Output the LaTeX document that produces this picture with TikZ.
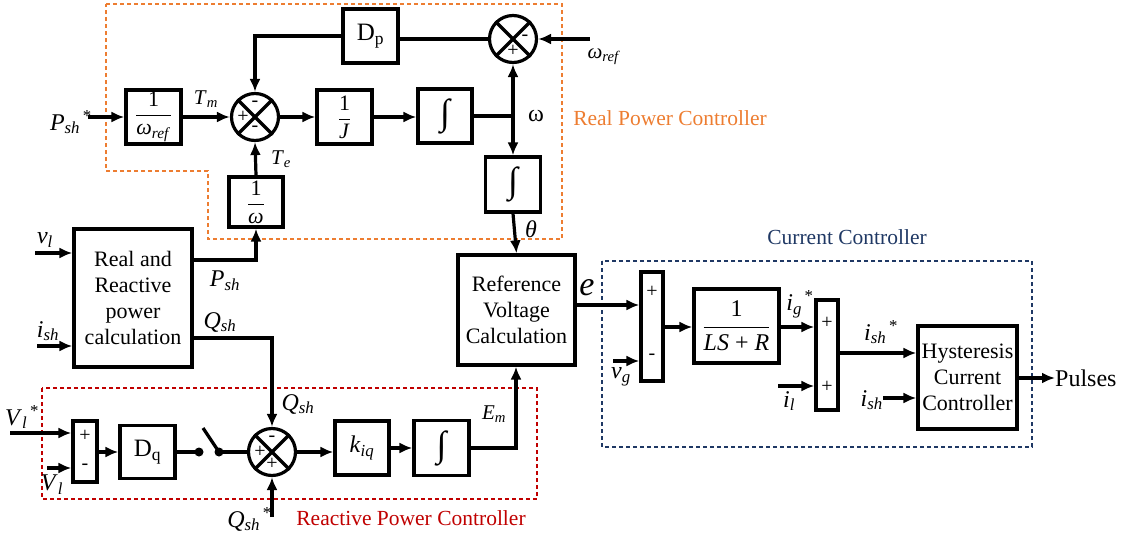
\documentclass[tikz,border=0pt]{standalone}
\usepackage{fontspec}
\setmainfont{Liberation Serif}
\usetikzlibrary{arrows.meta}
\definecolor{orng}{RGB}{237,125,49}
\definecolor{rd}{RGB}{192,0,0}
\definecolor{nv}{RGB}{31,56,100}
\newcommand\iv[1]{\textit{#1}}
\newcommand\sbi[1]{\textsubscript{\textit{#1}}}
\newcommand\sps{\textsuperscript{\,*}}
\newcommand\fr[2]{$\displaystyle\frac{\hbox{#1}}{\hbox{#2}}$}
\begin{document}
\begin{tikzpicture}[x=1pt,y=-1pt,
 blk/.style={draw,line width=3.2pt,inner sep=0pt,font=\fontsize{22}{26}\selectfont,align=center},
 sumc/.style={draw,circle,line width=3.2pt,minimum size=47pt,inner sep=0pt},
 bar/.style={draw,line width=3.2pt,inner sep=0pt},
 ln/.style={line width=3.2pt},
 arr/.style={line width=3.2pt,-{Latex[length=13pt,width=11pt]}},
 lbl/.style={font=\fontsize{24}{26}\selectfont,inner sep=0pt},
 lbs/.style={font=\fontsize{21}{24}\selectfont,inner sep=0pt},
 ttl/.style={font=\fontsize{21.5}{24}\selectfont,inner sep=0pt},
 sg/.style={font=\fontsize{20}{20}\selectfont,inner sep=0pt},
 grp/.style={line width=2.4pt,dash pattern=on 4pt off 3pt},
 intg/.style={blk,font=\fontsize{36}{36}\selectfont\itshape},
 dbl/.style={blk,font=\fontsize{25}{28}\selectfont},
]
\useasboundingbox (0,0) rectangle (1126,535);

% group frames
\draw[grp,orng] (106,4) -- (562,4) -- (562,239) -- (208,239) -- (208,171) -- (106,171) -- cycle;
\draw[grp,rd] (42,388) rectangle (537,499);
\draw[grp,nv] (602,261) rectangle (1032,447);
\node[ttl,orng] (rpc) at (670,118) {Real Power Controller};
\node[ttl,rd] (qpc) at (411,518) {Reactive Power Controller};
\node[ttl,nv] (cc) at (847,237) {Current Controller};

% blocks
\node[blk,minimum width=55pt,minimum height=54pt] (winv) at (153.5,117) {\fr{1}{\iv{ω}\sbi{ref}}};
\node[sumc] (s1) at (255,117) {};
\node[blk,minimum width=55pt,minimum height=54pt] (invJ) at (344.5,117) {\fr{1}{\iv{J}}};
\node[intg,minimum width=54pt,minimum height=54pt] (int1) at (445,116) {∫};
\node[dbl,minimum width=55pt,minimum height=54pt] (Dp) at (370.5,36) {D\textsubscript{p}};
\node[sumc] (s2) at (513,39) {};
\node[intg,minimum width=55pt,minimum height=55pt] (int2) at (513,184.5) {∫};
\node[blk,minimum width=54pt,minimum height=50pt] (invw) at (256,202) {\fr{1}{\iv{ω}}};
\node[blk,minimum width=118pt,minimum height=138pt] (RR) at (133,298) {Real and\\Reactive\\power\\calculation};
\node[blk,minimum width=117pt,minimum height=110pt] (RV) at (516.5,310) {Reference\\Voltage\\Calculation};
\node[bar,minimum width=24pt,minimum height=61pt] (bar1) at (85,451.5) {};
\node[dbl,minimum width=55pt,minimum height=53pt] (Dq) at (147.5,452) {D\textsubscript{q}};
\node[sumc] (s3) at (272,452) {};
\node[blk,minimum width=54pt,minimum height=54pt,font=\fontsize{24}{26}\selectfont] (kiq) at (362,448) {\iv{k}\sbi{iq}};
\node[intg,minimum width=55pt,minimum height=55pt] (int3) at (441.5,448) {∫};
\node[bar,minimum width=22pt,minimum height=109pt] (bar2) at (652,326.5) {};
\node[blk,minimum width=85pt,minimum height=74pt,font=\fontsize{24}{26}\selectfont] (LS) at (736.5,326) {\fr{1}{\iv{LS} + \iv{R}}};
\node[bar,minimum width=22pt,minimum height=110pt] (bar3) at (827,355) {};
\node[blk,minimum width=99pt,minimum height=103pt] (HCC) at (967.5,377.5) {Hysteresis\\Current\\Controller};

% sum circle crosses and signs
\foreach \s in {s1,s2,s3}{
  \draw[ln] (\s.45) -- (\s.225);
  \draw[ln] (\s.135) -- (\s.315);
}
\node[sg] (s1t) at ([yshift=13pt]s1.center) {-};
\node[sg] (s1l) at ([xshift=-12pt]s1.center) {+};
\node[sg] (s1b) at ([yshift=-12pt]s1.center) {-};
\node[sg] (s2r) at ([xshift=12pt,yshift=1pt]s2.center) {-};
\node[sg] (s2b) at ([yshift=-12pt]s2.center) {+};
\node[sg] (s3t) at ([yshift=13pt]s3.center) {-};
\node[sg] (s3l) at ([xshift=-12pt]s3.center) {+};
\node[sg] (s3b) at ([yshift=-12pt]s3.center) {+};

% bar signs
\node[sg] (b1p) at (85,436) {+};
\node[sg] (b1m) at (85,467) {-};
\node[sg] (b2p) at (652,292) {+};
\node[sg] (b2m) at (652,357) {-};
\node[sg] (b3p) at (827,323) {+};
\node[sg] (b3m) at (827,387) {+};

% free ends
\coordinate (psh) at (88,117);
\coordinate (wref) at (590,39);
\coordinate (wj) at (513,116);
\coordinate (vl) at (35,253);
\coordinate (ish) at (37,346);
\coordinate (pshc) at (256,260);
\coordinate (qshc) at (272,338);
\coordinate (vls) at (10,433);
\coordinate (vlm) at (47,468);
\coordinate (d1) at (199,452);
\coordinate (d2) at (219,452);
\coordinate (blade) at (203,428);
\coordinate (qshs) at (272,517);
\coordinate (emc) at (516,448);
\coordinate (vg) at (613,361);
\coordinate (il) at (778,386);
\coordinate (ish2) at (883,398);
\coordinate (pul) at (1055,378);

% connectors: real power loop
\draw[arr] (psh) -- (winv.west);
\draw[arr] (winv.east) -- (s1.west);
\draw[arr] (s1.east) -- (invJ.west);
\draw[arr] (invJ.east) -- (int1.west |- invJ.east);
\draw[ln] (int1.east) -- (wj);
\draw[arr] (wj) -- (s2.south);
\draw[arr] (wj) -- (int2.north);
\draw[ln] (s2.west) -- (s2.west -| Dp.east);
\draw[arr] (Dp.west) -| (s1.north);
\draw[arr] (wref) -- (s2.east);
\draw[arr] (int2.south) -- (RV.north);
\draw[arr] (invw.north) -- (s1.south);
\draw[arr] (vl) -- (vl -| RR.west);
\draw[arr] (ish) -- (ish -| RR.west);
\draw[arr] (RR.east |- pshc) -- (pshc) -- (invw.south);
\draw[arr] (RR.east |- qshc) -- (qshc) -- (s3.north);

% reactive loop
\draw[arr] (vls) -- (vls -| bar1.west);
\draw[arr] (vlm) -- (vlm -| bar1.west);
\draw[arr] (bar1.east |- Dq.west) -- (Dq.west);
\draw[ln] (Dq.east) -- (d1);
\fill (d1) circle (4.5pt);
\fill (d2) circle (4.5pt);
\draw[ln] (d2) -- (blade);
\draw[ln] (d2) -- (s3.west);
\draw[arr] (qshs) -- (s3.south);
\draw[arr] (s3.east) -- (kiq.west |- s3.east);
\draw[arr] (kiq.east) -- (int3.west);
\draw[arr] (int3.east) -- (emc) -- (RV.south -| emc);

% current controller
\draw[arr] (RV.east |- 0,305) -- (bar2.west |- 0,305);
\draw[arr] (vg) -- (vg -| bar2.west);
\draw[arr] (bar2.east |- 0,327) -- (LS.west |- 0,327);
\draw[arr] (LS.east |- 0,327) -- (bar3.west |- 0,327);
\draw[arr] (il) -- (il -| bar3.west);
\draw[arr] (bar3.east |- 0,353) -- (HCC.west |- 0,353);
\draw[arr] (ish2) -- (ish2 -| HCC.west);
\draw[arr] (HCC.east |- pul) -- (pul);

% labels
\node[lbl,anchor=east] (lpsh) at (92,122) {\iv{P}\sbi{sh}\sps};
\node[lbs] (ltm) at (206,99) {\iv{T}\sbi{m}};
\node[lbs] (lte) at (281,159) {\iv{T}\sbi{e}};
\node[lbs] (lwref) at (604,57) {\iv{ω}\sbi{ref}};
\node[lbl] (lw) at (536,116) {ω};
\node[lbl] (lth) at (531,229) {\iv{θ}};
\node[lbl] (lvl) at (45,240) {\iv{v}\sbi{l}};
\node[lbl] (lish) at (48,331) {\iv{i}\sbi{sh}};
\node[lbl] (lpsh2) at (225,281) {\iv{P}\sbi{sh}};
\node[lbl] (lqsh) at (220,322) {\iv{Q}\sbi{sh}};
\node[lbl] (lqsh2) at (298,404) {\iv{Q}\sbi{sh}};
\node[lbl,anchor=east] (lqshs) at (272,519) {\iv{Q}\sbi{sh}\sps};
\node[lbl] (lvls) at (22,417) {\iv{V}\sbi{l}\sps};
\node[lbl] (lvlm) at (52,485) {\iv{V}\sbi{l}};
\node[lbs] (lem) at (494,414) {\iv{E}\sbi{m}};
\node[lbl,font=\fontsize{34}{34}\selectfont] (le) at (587,288) {\iv{e}};
\node[lbl] (lvg) at (621,377) {\iv{v}\sbi{g}};
\node[lbl] (lig) at (800,304) {\iv{i}\sbi{g}\sps};
\node[lbl] (lil) at (789,401) {\iv{i}\sbi{l}};
\node[lbl] (lishs) at (881,332) {\iv{i}\sbi{sh}\sps};
\node[lbl,anchor=east] (lish2) at (883,400) {\iv{i}\sbi{sh}};
\node[lbl,anchor=west] (lpul) at (1055,378) {Pulses};
\end{tikzpicture}
\end{document}
